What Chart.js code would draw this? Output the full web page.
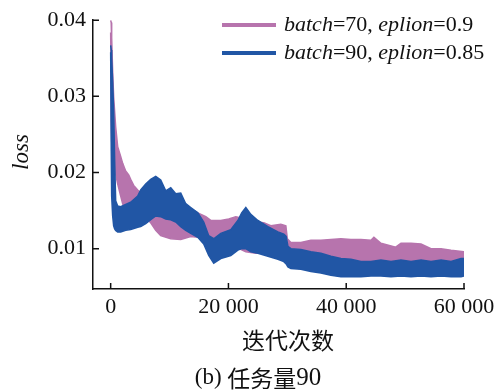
<!DOCTYPE html>
<html>
<head>
    <meta charset="UTF-8">
    <title>loss 曲线 - 任务量90</title>
    <script src="https://cdn.jsdelivr.net/npm/chart.js"></script>
    <style>
        body {
            margin: 0;
            padding: 0;
            background-color: #fff;
        }
        .chart-container {
            position: relative;
            width: 504px;
            height: 392px;
        }
    </style>
</head>
<body>
    <div class="chart-container">
        <canvas id="lossChart" width="504" height="392"></canvas>
    </div>

    <script>
        // 坐标轴刻度
        const xTicks = [0, 20000, 40000, 60000];
        const xTickLabels = ['0', '20 000', '40 000', '60 000'];
        const yTicks = [0.01, 0.02, 0.03, 0.04];
        const yTickLabels = ['0.01', '0.02', '0.03', '0.04'];

        // 图例: [斜体?, 文字]
        const legendPink = [[true, 'batch'], [false, '=70, '], [true, 'eplion'], [false, '=0.9']];
        const legendBlue = [[true, 'batch'], [false, '=90, '], [true, 'eplion'], [false, '=0.85']];

        // batch=70, eplion=0.9 (噪声带的上下包络, 从图上读取)
        const pinkX  = [0, 100, 170, 340, 510, 850, 1190, 1700, 2040, 2550,
                        3060, 3400, 3910, 4590, 5100, 6290, 6800, 7650, 8500, 10200,
                        11900, 13600, 14800, 16150, 17000, 18700, 20050, 21250, 22950, 24650,
                        26000, 27200, 28900, 29750, 30000, 30600, 32300, 34000, 35700, 37400,
                        39100, 40800, 42500, 44200, 44700, 45900, 48400, 49300, 51000, 52700,
                        54400, 56100, 57800, 60000];
        const pinkHi = [0.0400, 0.0397, 0.0377, 0.0332, 0.0299, 0.0260, 0.0234, 0.0221, 0.0212, 0.0202,
                        0.0197, 0.0191, 0.0183, 0.0177, 0.0173, 0.0168, 0.0165, 0.0163, 0.0160, 0.0158,
                        0.0155, 0.0152, 0.0147, 0.0142, 0.0137, 0.0137, 0.0139, 0.0142, 0.0139, 0.0135,
                        0.0134, 0.0130, 0.0132, 0.0130, 0.0113, 0.0108, 0.0108, 0.0111, 0.0111, 0.0112,
                        0.0113, 0.0112, 0.0112, 0.0111, 0.0115, 0.0107, 0.0102, 0.0107, 0.0107, 0.0106,
                        0.0100, 0.0100, 0.0098, 0.0096];
        const pinkLo = [0.0384, 0.0267, 0.0241, 0.0215, 0.0208, 0.0198, 0.0185, 0.0169, 0.0159, 0.0150,
                        0.0145, 0.0142, 0.0141, 0.0139, 0.0138, 0.0138, 0.0134, 0.0124, 0.0117, 0.0113,
                        0.0112, 0.0116, 0.0115, 0.0111, 0.0108, 0.0106, 0.0104, 0.0102, 0.0096, 0.0094,
                        0.0094, 0.0095, 0.0098, 0.0098, 0.0095, 0.0093, 0.0090, 0.0087, 0.0085, 0.0082,
                        0.0081, 0.0080, 0.0078, 0.0078, 0.0078, 0.0077, 0.0077, 0.0077, 0.0077, 0.0077,
                        0.0077, 0.0077, 0.0077, 0.0077];

        // batch=90, eplion=0.85
        const blueX  = [0, 100, 170, 340, 510, 680, 850, 1190, 1700, 2550,
                        3400, 4590, 5100, 5950, 6800, 7650, 8500, 9350, 10200, 11050,
                        11900, 12750, 13600, 14800, 15800, 16650, 17500, 18700, 20400, 21600,
                        22250, 22950, 23800, 25000, 26700, 28400, 29400, 29800, 30100, 30600,
                        32300, 34000, 35700, 37400, 39100, 40800, 42500, 44200, 45900, 47600,
                        49300, 51000, 52700, 54400, 56100, 57800, 59500, 60000];
        const blueHi = [0.0367, 0.0361, 0.0351, 0.0319, 0.0280, 0.0215, 0.0163, 0.0156, 0.0155, 0.0158,
                        0.0161, 0.0169, 0.0177, 0.0185, 0.0191, 0.0195, 0.0190, 0.0176, 0.0180, 0.0172,
                        0.0173, 0.0159, 0.0154, 0.0147, 0.0135, 0.0117, 0.0113, 0.0120, 0.0125, 0.0137,
                        0.0147, 0.0154, 0.0145, 0.0137, 0.0129, 0.0122, 0.0119, 0.0116, 0.0103, 0.0100,
                        0.0099, 0.0096, 0.0094, 0.0090, 0.0087, 0.0086, 0.0083, 0.0083, 0.0085, 0.0083,
                        0.0085, 0.0083, 0.0085, 0.0083, 0.0085, 0.0083, 0.0087, 0.0087];
        const blueLo = [0.0358, 0.0228, 0.0169, 0.0143, 0.0130, 0.0126, 0.0124, 0.0122, 0.0122, 0.0124,
                        0.0125, 0.0128, 0.0129, 0.0133, 0.0138, 0.0143, 0.0142, 0.0139, 0.0138, 0.0135,
                        0.0129, 0.0124, 0.0120, 0.0115, 0.0106, 0.0091, 0.0081, 0.0087, 0.0091, 0.0098,
                        0.0100, 0.0100, 0.0096, 0.0094, 0.0090, 0.0086, 0.0083, 0.0080, 0.0076, 0.0074,
                        0.0073, 0.0070, 0.0068, 0.0065, 0.0063, 0.0063, 0.0063, 0.0064, 0.0064, 0.0063,
                        0.0064, 0.0063, 0.0064, 0.0063, 0.0064, 0.0063, 0.0063, 0.0064];

        const pinkColor = '#b774ad';
        const blueColor = '#2156a5';
        const serif = '"Liberation Serif", "Times New Roman", serif';
        const cjk = '"Noto Sans CJK SC", sans-serif';

        const pts = (xs, ys) => xs.map((x, i) => ({ x: x, y: ys[i] }));

        // 按片段绘制混合字体文字
        function drawRuns(ctx, runs, x, y, align) {
            let total = 0;
            runs.forEach(r => { ctx.font = r[0]; total += ctx.measureText(r[1]).width; });
            let cx = align === 'center' ? x - total / 2 : x;
            ctx.textBaseline = 'middle';
            ctx.textAlign = 'left';
            runs.forEach(r => {
                ctx.font = r[0];
                ctx.fillText(r[1], cx, y);
                cx += ctx.measureText(r[1]).width;
            });
        }

        const decorPlugin = {
            id: 'decor',
            afterDraw(chart) {
                const ctx = chart.ctx;
                const xs = chart.scales.x, ys = chart.scales.y, a = chart.chartArea;
                ctx.save();
                // 向内的刻度线
                ctx.strokeStyle = '#111';
                ctx.lineWidth = 1.5;
                ctx.beginPath();
                xTicks.forEach(v => {
                    const px = xs.getPixelForValue(v);
                    ctx.moveTo(px, a.bottom);
                    ctx.lineTo(px, a.bottom - 6);
                });
                yTicks.forEach(v => {
                    const py = ys.getPixelForValue(v);
                    ctx.moveTo(a.left, py);
                    ctx.lineTo(a.left + 6, py);
                });
                ctx.stroke();

                ctx.fillStyle = '#111';
                // y 轴标题
                ctx.save();
                ctx.translate(22, 152);
                ctx.rotate(-Math.PI / 2);
                drawRuns(ctx, [['italic 23px ' + serif, 'loss']], 0, 0, 'center');
                ctx.restore();

                // x 轴标题与图题
                drawRuns(ctx, [['23px ' + cjk, '迭代次数']], 288, 340, 'center');
                drawRuns(ctx, [['23px ' + serif, '(b) '], ['23px ' + cjk, '任务量'], ['25px ' + serif, '90']], 258, 378, 'center');

                // 图例
                const legends = [[legendPink, pinkColor, 25], [legendBlue, blueColor, 53]];
                legends.forEach(([parts, color, ly]) => {
                    ctx.strokeStyle = color;
                    ctx.lineWidth = 4;
                    ctx.beginPath();
                    ctx.moveTo(222, ly);
                    ctx.lineTo(276, ly);
                    ctx.stroke();
                    ctx.fillStyle = '#111';
                    drawRuns(ctx, parts.map(p => [(p[0] ? 'italic ' : '') + '22px ' + serif, p[1]]), 284, ly, 'left');
                });
                ctx.restore();
            }
        };

        const ctx = document.getElementById('lossChart').getContext('2d');
        new Chart(ctx, {
            type: 'line',
            data: {
                datasets: [
                    { data: pts(blueX, blueHi), borderColor: blueColor, backgroundColor: blueColor, borderWidth: 1.5, pointRadius: 0, fill: '+1', tension: 0 },
                    { data: pts(blueX, blueLo), borderColor: blueColor, borderWidth: 1.5, pointRadius: 0, fill: false, tension: 0 },
                    { data: pts(pinkX, pinkHi), borderColor: pinkColor, backgroundColor: pinkColor, borderWidth: 1.5, pointRadius: 0, fill: '+1', tension: 0 },
                    { data: pts(pinkX, pinkLo), borderColor: pinkColor, borderWidth: 1.5, pointRadius: 0, fill: false, tension: 0 }
                ]
            },
            options: {
                responsive: false,
                animation: false,
                events: [],
                layout: { padding: { top: 17, right: 40, left: 0, bottom: 0 } },
                plugins: {
                    legend: { display: false },
                    tooltip: { enabled: false }
                },
                scales: {
                    x: {
                        type: 'linear',
                        min: -3000,
                        max: 60000,
                        grid: { display: false, drawTicks: false },
                        border: { display: true, color: '#111', width: 1.5 },
                        afterBuildTicks: s => { s.ticks = xTicks.map(v => ({ value: v })); },
                        afterFit: s => { s.height = 103; },
                        ticks: {
                            padding: 5,
                            color: '#111',
                            font: { family: serif, size: 22 },
                            maxRotation: 0,
                            callback: (v) => xTickLabels[xTicks.indexOf(v)]
                        }
                    },
                    y: {
                        min: 0.0047,
                        max: 0.04,
                        grid: { display: false, drawTicks: false },
                        border: { display: true, color: '#111', width: 1.5 },
                        afterBuildTicks: s => { s.ticks = yTicks.map(v => ({ value: v })); },
                        afterFit: s => { s.width = 93; },
                        ticks: {
                            padding: 7,
                            color: '#111',
                            font: { family: serif, size: 22 },
                            callback: (v) => yTickLabels[yTicks.indexOf(v)]
                        }
                    }
                }
            },
            plugins: [decorPlugin]
        });
    </script>
</body>
</html>
